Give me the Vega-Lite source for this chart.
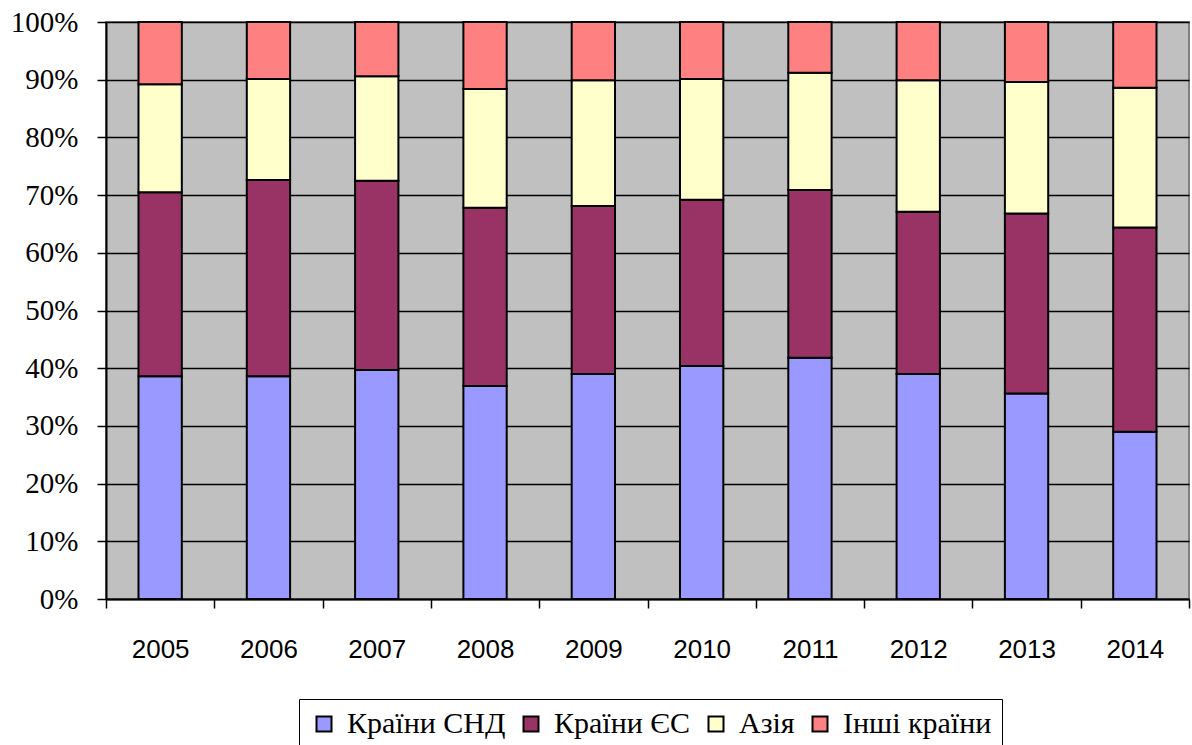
{
  "$schema": "https://vega.github.io/schema/vega-lite/v6.json",
  "width": 1083,
  "height": 577,
  "autosize": {"type": "none"},
  "padding": {"left": 106, "top": 22, "right": 3, "bottom": 146},
  "background": "white",
  "config": {"view": {"fill": "#C0C0C0", "stroke": "#808080", "strokeWidth": 2}},
  "data": {"values": [
    {"year": "2005", "region": "Країни СНД", "ord": 1, "share": 38.6},
    {"year": "2005", "region": "Країни ЄС", "ord": 2, "share": 31.9},
    {"year": "2005", "region": "Азія", "ord": 3, "share": 18.7},
    {"year": "2005", "region": "Інші країни", "ord": 4, "share": 10.8},
    {"year": "2006", "region": "Країни СНД", "ord": 1, "share": 38.6},
    {"year": "2006", "region": "Країни ЄС", "ord": 2, "share": 34.0},
    {"year": "2006", "region": "Азія", "ord": 3, "share": 17.5},
    {"year": "2006", "region": "Інші країни", "ord": 4, "share": 9.9},
    {"year": "2007", "region": "Країни СНД", "ord": 1, "share": 39.7},
    {"year": "2007", "region": "Країни ЄС", "ord": 2, "share": 32.8},
    {"year": "2007", "region": "Азія", "ord": 3, "share": 18.1},
    {"year": "2007", "region": "Інші країни", "ord": 4, "share": 9.4},
    {"year": "2008", "region": "Країни СНД", "ord": 1, "share": 36.9},
    {"year": "2008", "region": "Країни ЄС", "ord": 2, "share": 30.9},
    {"year": "2008", "region": "Азія", "ord": 3, "share": 20.6},
    {"year": "2008", "region": "Інші країни", "ord": 4, "share": 11.6},
    {"year": "2009", "region": "Країни СНД", "ord": 1, "share": 39.0},
    {"year": "2009", "region": "Країни ЄС", "ord": 2, "share": 29.1},
    {"year": "2009", "region": "Азія", "ord": 3, "share": 21.8},
    {"year": "2009", "region": "Інші країни", "ord": 4, "share": 10.1},
    {"year": "2010", "region": "Країни СНД", "ord": 1, "share": 40.4},
    {"year": "2010", "region": "Країни ЄС", "ord": 2, "share": 28.8},
    {"year": "2010", "region": "Азія", "ord": 3, "share": 20.9},
    {"year": "2010", "region": "Інші країни", "ord": 4, "share": 9.9},
    {"year": "2011", "region": "Країни СНД", "ord": 1, "share": 41.8},
    {"year": "2011", "region": "Країни ЄС", "ord": 2, "share": 29.1},
    {"year": "2011", "region": "Азія", "ord": 3, "share": 20.3},
    {"year": "2011", "region": "Інші країни", "ord": 4, "share": 8.8},
    {"year": "2012", "region": "Країни СНД", "ord": 1, "share": 39.0},
    {"year": "2012", "region": "Країни ЄС", "ord": 2, "share": 28.1},
    {"year": "2012", "region": "Азія", "ord": 3, "share": 22.8},
    {"year": "2012", "region": "Інші країни", "ord": 4, "share": 10.1},
    {"year": "2013", "region": "Країни СНД", "ord": 1, "share": 35.6},
    {"year": "2013", "region": "Країни ЄС", "ord": 2, "share": 31.2},
    {"year": "2013", "region": "Азія", "ord": 3, "share": 22.8},
    {"year": "2013", "region": "Інші країни", "ord": 4, "share": 10.4},
    {"year": "2014", "region": "Країни СНД", "ord": 1, "share": 29.0},
    {"year": "2014", "region": "Країни ЄС", "ord": 2, "share": 35.4},
    {"year": "2014", "region": "Азія", "ord": 3, "share": 24.2},
    {"year": "2014", "region": "Інші країни", "ord": 4, "share": 11.4}
  ]},
  "mark": {"type": "bar", "stroke": "black", "strokeWidth": 2, "width": {"band": 0.4}},
  "encoding": {
    "x": {
      "field": "year", "type": "ordinal",
      "scale": {"paddingInner": 0, "paddingOuter": 0},
      "axis": {
        "title": null, "labelAngle": 0, "tickBand": "extent",
        "labelFont": "Liberation Sans", "labelFontSize": 26, "labelColor": "black",
        "labelPadding": 28, "tickSize": 9, "tickColor": "black", "tickWidth": 1.5,
        "domainColor": "black", "domainWidth": 2, "grid": false
      }
    },
    "y": {
      "field": "share", "type": "quantitative", "stack": "normalize",
      "scale": {"domain": [0, 1], "nice": false},
      "axis": {
        "title": null, "format": ".0%",
        "values": [0, 0.1, 0.2, 0.3, 0.4, 0.5, 0.6, 0.7, 0.8, 0.9, 1],
        "labelFont": "'Liberation Serif', 'Times New Roman', 'DejaVu Serif', serif", "labelFontSize": 29, "labelColor": "black",
        "labelPadding": 19, "tickSize": 9, "tickColor": "black", "tickWidth": 1.5,
        "domainColor": "black", "domainWidth": 2,
        "grid": true, "gridColor": "black", "gridWidth": 1.5, "gridOpacity": 1
      }
    },
    "color": {
      "field": "region", "type": "nominal",
      "scale": {
        "domain": ["Країни СНД", "Країни ЄС", "Азія", "Інші країни"],
        "range": ["#9999FF", "#993366", "#FFFFCC", "#FF8080"]
      },
      "legend": {
        "title": null, "orient": "none", "legendX": 193, "legendY": 677,
        "direction": "horizontal",
        "strokeColor": "black", "fillColor": "white", "padding": 10,
        "symbolType": "square", "symbolSize": 225, "symbolStrokeColor": "black",
        "symbolStrokeWidth": 2, "symbolOpacity": 1,
        "labelFont": "'Liberation Serif', 'Times New Roman', 'DejaVu Serif', serif", "labelFontSize": 30, "labelColor": "black",
        "labelLimit": 400, "labelOffset": 8, "columnPadding": 10
      }
    },
    "order": {"field": "ord", "type": "quantitative"}
  }
}
